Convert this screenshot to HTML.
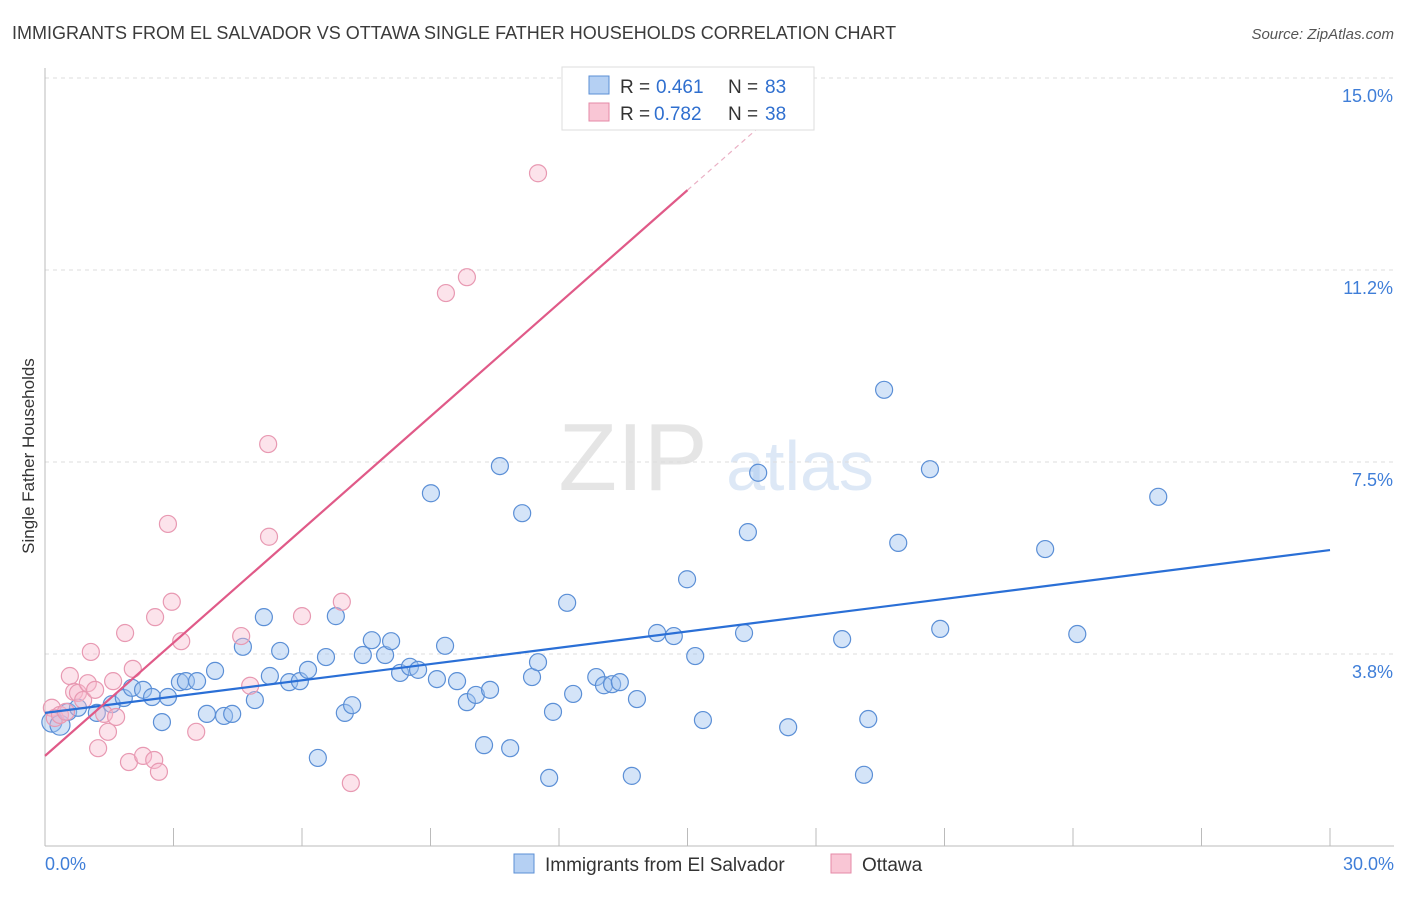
<!DOCTYPE html>
<html><head><meta charset="utf-8"><style>
body{margin:0;background:#fff;font-family:"Liberation Sans",sans-serif}
svg text{font-family:"Liberation Sans",sans-serif}
</style></head><body>
<svg id="chart" width="1406" height="892" xmlns="http://www.w3.org/2000/svg">
<text x="12" y="39" font-size="18" fill="#3b3b3b">IMMIGRANTS FROM EL SALVADOR VS OTTAWA SINGLE FATHER HOUSEHOLDS CORRELATION CHART</text>
<text x="1394" y="39" font-size="15" fill="#555" text-anchor="end" font-style="italic">Source: ZipAtlas.com</text>
<text transform="translate(34,456) rotate(-90)" font-size="17" fill="#333" text-anchor="middle">Single Father Households</text>
<g opacity="0.5">
<text x="633" y="490" font-size="96" fill="#ccc" font-family="Liberation Serif" text-anchor="middle">ZIP</text>
<text x="800" y="490" font-size="70" fill="#bcd3ef" text-anchor="middle">atlas</text>
</g>
<g id="grid"></g><g id="axes"></g><g id="marks"></g>
<g>
<rect x="562" y="67" width="252" height="63" fill="#fff" stroke="#ddd"/>
<rect x="589" y="76" width="20" height="18" fill="#b5d0f3" stroke="#5b8fd6"/>
<text x="620" y="93" font-size="19" fill="#333">R = </text><text x="656" y="93" font-size="19" fill="#2f6fcf">0.461</text>
<text x="728" y="93" font-size="19" fill="#333">N = </text><text x="765" y="93" font-size="19" fill="#2f6fcf">83</text>
<rect x="589" y="103" width="20" height="18" fill="#f9c6d5" stroke="#e58aa7"/>
<text x="620" y="120" font-size="19" fill="#333">R = </text><text x="654" y="120" font-size="19" fill="#2f6fcf">0.782</text>
<text x="728" y="120" font-size="19" fill="#333">N = </text><text x="765" y="120" font-size="19" fill="#2f6fcf">38</text>
</g>
<g>
<rect x="514" y="854" width="20" height="19" fill="#b5d0f3" stroke="#5b8fd6"/>
<text x="545" y="871" font-size="19" fill="#333">Immigrants from El Salvador</text>
<rect x="831" y="854" width="20" height="19" fill="#f9c6d5" stroke="#e58aa7"/>
<text x="862" y="871" font-size="19" fill="#333">Ottawa</text>
</g>
</svg>
<script>
const xTicks=[0,3,6,9,12,15,18,21,24,27,30];
const yTicks=[3.75,7.5,11.25,15];
const yTickLabels=["3.8%","7.5%","11.2%","15.0%"];
const xTickLabels=["0.0%","30.0%"];
const blueX=[0.16,0.35,0.54,0.77,1.21,1.56,1.84,2.03,2.29,2.50,2.73,2.87,3.15,3.29,3.55,3.78,3.97,4.18,4.37,4.62,4.90,5.11,5.25,5.49,5.70,5.95,6.14,6.37,6.56,6.79,7.00,7.17,7.42,7.63,7.94,8.08,8.29,8.52,8.71,9.01,9.15,9.34,9.62,9.85,10.06,10.25,10.39,10.62,10.86,11.14,11.37,11.51,11.77,11.86,12.19,12.33,12.87,13.05,13.24,13.42,13.70,13.82,14.29,14.68,14.99,15.18,15.36,16.32,16.41,16.65,17.35,18.61,19.12,19.22,19.59,19.92,20.66,20.90,23.35,24.10,25.99];
const blueY=[2.42,2.36,2.62,2.70,2.60,2.77,2.89,3.09,3.05,2.91,2.42,2.91,3.20,3.22,3.22,2.58,3.42,2.54,2.58,3.89,2.85,4.47,3.32,3.81,3.20,3.22,3.44,1.72,3.69,4.49,2.60,2.75,3.73,4.02,3.73,4.00,3.38,3.50,3.44,6.89,3.26,3.91,3.22,2.81,2.95,1.97,3.05,7.42,1.91,6.50,3.30,3.59,1.33,2.62,4.75,2.97,3.30,3.14,3.16,3.20,1.37,2.87,4.16,4.10,5.21,3.71,2.46,4.16,6.13,7.29,2.32,4.04,1.39,2.48,8.91,5.92,7.36,4.24,5.80,4.14,6.82];
const pinkX=[0.16,0.23,0.35,0.49,0.58,0.68,0.77,0.89,1.00,1.07,1.17,1.24,1.38,1.47,1.59,1.66,1.87,1.96,2.05,2.29,2.55,2.66,2.87,2.96,2.57,3.18,3.53,4.58,4.79,5.21,5.23,6.00,6.93,7.14,9.36,9.85,11.51];
const pinkY=[2.70,2.50,2.56,2.62,3.32,3.01,2.99,2.85,3.18,3.79,3.05,1.91,2.58,2.23,3.22,2.52,4.16,1.64,3.46,1.76,1.68,1.45,6.29,4.77,4.47,4.00,2.23,4.10,3.13,7.85,6.04,4.49,4.77,1.23,10.80,11.11,13.14];
const blueTrend=[2.60,5.78];
const pinkTrend=[1.76,12.81];
const NS="http://www.w3.org/2000/svg";
const X=v=>45+v*(1285/30), Y=v=>846-v*51.2;
function mk(tag,attrs,parent){const e=document.createElementNS(NS,tag);for(const k in attrs)e.setAttribute(k,attrs[k]);document.getElementById(parent).appendChild(e);return e;}
yTicks.forEach((t,i)=>{
 let l=mk('line',{x1:45,x2:1394,y1:Y(t),y2:Y(t),stroke:'#ddd','stroke-dasharray':'4 4'},'grid');
 
 
 let tx=mk('text',{x:1393,y:Y(t)+24,'font-size':18,fill:'#3f7ed8','text-anchor':'end'},'axes');tx.textContent=yTickLabels[i];
 
 
});
let tg=mk('line',{x1:45,x2:1394,y1:78,y2:78,stroke:'#ddd','stroke-dasharray':'4 4'},'grid');


let ya=mk('line',{x1:45,x2:45,y1:68,y2:846,stroke:'#bbb'},'axes');


let xa=mk('line',{x1:45,x2:1394,y1:846,y2:846,stroke:'#bbb'},'axes');


xTicks.forEach(t=>{let l=mk('line',{x1:X(t),x2:X(t),y1:828,y2:846,stroke:'#bbb'},'axes');
 
 });
let xl0=mk('text',{x:45,y:870,'font-size':18,fill:'#3f7ed8'},'axes');xl0.textContent=xTickLabels[0];


let xl1=mk('text',{x:1394,y:870,'font-size':18,fill:'#3f7ed8','text-anchor':'end'},'axes');xl1.textContent=xTickLabels[1];


blueX.forEach((x,i)=>{let c=mk('circle',{cx:X(x),cy:Y(blueY[i]),r:i<2?10:8.5,fill:'rgba(160,196,240,0.45)',stroke:'#5b8fd6','stroke-width':1.2},'marks');
 
 });
pinkX.forEach((x,i)=>{let c=mk('circle',{cx:X(x),cy:Y(pinkY[i]),r:8.5,fill:'rgba(248,185,205,0.4)',stroke:'#e899b2','stroke-width':1.2},'marks');
 
 });
let bl=mk('line',{x1:X(0),y1:Y(blueTrend[0]),x2:X(30),y2:Y(blueTrend[1]),stroke:'#2a6fd6','stroke-width':2.2},'marks');


const ps=(pinkTrend[1]-pinkTrend[0])/15;
let pl=mk('line',{x1:X(0),y1:Y(pinkTrend[0]),x2:X(15),y2:Y(pinkTrend[1]),stroke:'#e05a88','stroke-width':2.2},'marks');


let pd=mk('line',{x1:X(15),y1:Y(pinkTrend[1]),x2:X(17.2),y2:Y(pinkTrend[0]+ps*17.2),stroke:'#eab0c4','stroke-width':1.2,'stroke-dasharray':'5 4'},'marks');


</script>
</body></html>
